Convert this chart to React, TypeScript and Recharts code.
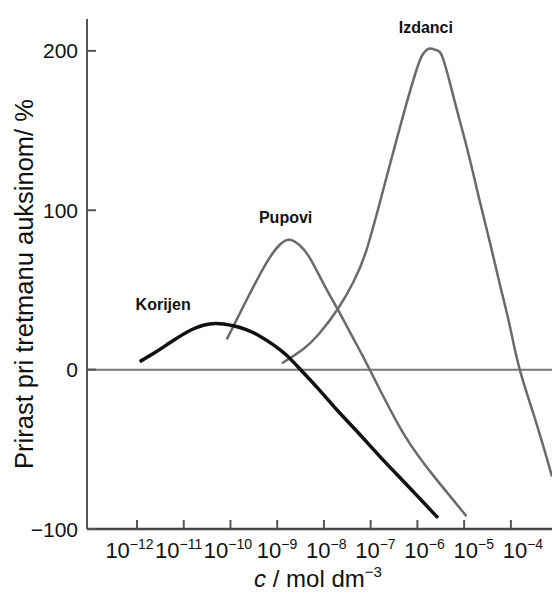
import { LineChart, Line, XAxis, YAxis, ReferenceLine, ReferenceDot } from "recharts";

// log10 of concentration (mol dm-3) and growth increase in %
const korijenX = [-11.94, -11.6, -11.29, -10.8, -10.33, -9.94, -9.65, -9.37, -9.08, -8.8, -8.5, -8.09, -7.73, -7.38, -7.02, -6.66, -6.3, -5.93, -5.56];
const korijenY = [5, 11, 17, 25.5, 29, 27.5, 25, 21, 15.5, 9, 0, -13, -25, -36, -47.5, -59, -70, -81.5, -93];

const pupoviX = [-10.08, -9.65, -9.23, -8.94, -8.73, -8.52, -8.3, -8.01, -7.69, -7.37, -7.02, -6.3, -5.59, -4.95];
const pupoviY = [19, 44, 67, 78.5, 81.5, 78, 70, 54, 37, 19.5, 0, -40, -69, -92];

const izdanciX = [-8.9, -8.44, -8.09, -7.69, -7.37, -7.09, -6.73, -6.3, -6.02, -5.88, -5.73, -5.6, -5.45, -5.2, -4.93, -4.66, -4.45, -4.24, -4.02, -3.81, -3.45, -3.12];
const izdanciY = [4, 13, 23, 38.7, 55, 75, 113, 160, 188, 198, 201.5, 200.5, 195, 168, 138, 105, 80, 54, 27, 0, -34, -67];

const X_TICKS = [-12, -11, -10, -9, -8, -7, -6, -5, -4];
const Y_TICKS = [-100, 0, 100, 200];

const SERIES_LABELS = [
  { name: "Izdanci", x: -5.82, y: 214.7 },
  { name: "Pupovi", x: -8.82, y: 95.6 },
  { name: "Korijen", x: -11.44, y: 41 },
];

const toPoints = (xs: number[], ys: number[]) => xs.map((x, i) => ({ x, y: ys[i] }));

const korijen = toPoints(korijenX, korijenY);
const pupovi = toPoints(pupoviX, pupoviY);
const izdanci = toPoints(izdanciX, izdanciY);

const FONT = "'Liberation Sans', Arial, sans-serif";

const XTick = ({ x, y, payload }: any) => {
  const k = payload.value;
  // exponent labels in the original sit a little wider apart than the ticks
  const shift = -7.5 + 2.44 * (k + 12);
  return (
    <g>
      <line x1={x} y1={y} x2={x} y2={y - 9} stroke="#555" strokeWidth={2} />
      <text x={x + shift} y={y + 29} textAnchor="middle" fontSize={22} fill="#111" fontFamily={FONT}>
        10<tspan dy={-9} fontSize={14}>{`\u2212${-k}`}</tspan>
      </text>
    </g>
  );
};

const YTick = ({ x, y, payload }: any) => {
  const v = payload.value;
  const txt = v < 0 ? `\u2212${-v}` : `${v}`;
  return (
    <g>
      <line x1={x} y1={y} x2={x + 9} y2={y} stroke="#555" strokeWidth={2} />
      <text x={x - 9} y={y} dy="0.36em" textAnchor="end" fontSize={21} fill="#111" fontFamily={FONT}>
        {txt}
      </text>
    </g>
  );
};

export default function App() {
  return (
    <div style={{ position: "absolute", left: 0, top: 0, background: "#fff" }}>
      <LineChart width={552} height={595} margin={{ top: 19, right: 0, bottom: 0, left: 0 }}>
        <XAxis
          type="number"
          dataKey="x"
          domain={[-13.07, -3.12]}
          ticks={X_TICKS}
          allowDataOverflow
          height={66}
          tickSize={0}
          tickMargin={0}
          tickLine={false}
          axisLine={{ stroke: "#444", strokeWidth: 2.5 }}
          tick={<XTick />}
          label={{
            position: "insideBottom",
            content: () => (
              <text x={318} y={587} textAnchor="middle" fontSize={24} fill="#111" fontFamily={FONT}>
                <tspan fontStyle="italic">c</tspan> / mol dm<tspan dy={-10} fontSize={15}>{"\u22123"}</tspan>
              </text>
            ),
          }}
        />
        <YAxis
          type="number"
          dataKey="y"
          domain={[-100, 220]}
          ticks={Y_TICKS}
          allowDataOverflow
          width={87}
          tickSize={0}
          tickMargin={0}
          tickLine={false}
          axisLine={{ stroke: "#555", strokeWidth: 2 }}
          tick={<YTick />}
          label={{
            position: "insideLeft",
            content: () => (
              <text
                x={24}
                y={284}
                transform="rotate(-90 24 284)"
                textAnchor="middle"
                dominantBaseline="central"
                fontSize={25.5}
                fill="#111"
                fontFamily={FONT}
              >
                Prirast pri tretmanu auksinom/ %
              </text>
            ),
          }}
        />
        <ReferenceLine y={0} stroke="#777" strokeWidth={2} />
        <Line data={izdanci} dataKey="y" type="natural" stroke="#6a6a6a" strokeWidth={2.5} dot={false} isAnimationActive={false} />
        <Line data={pupovi} dataKey="y" type="natural" stroke="#6a6a6a" strokeWidth={2.5} dot={false} isAnimationActive={false} />
        <Line data={korijen} dataKey="y" type="natural" stroke="#111" strokeWidth={3.5} dot={false} isAnimationActive={false} />
        {SERIES_LABELS.map((s) => (
          <ReferenceDot
            key={s.name}
            x={s.x}
            y={s.y}
            r={0}
            fill="none"
            stroke="none"
            label={{ value: s.name, position: "center", fontSize: 16, fontWeight: "bold", fill: "#111", fontFamily: FONT }}
          />
        ))}
      </LineChart>
    </div>
  );
}
